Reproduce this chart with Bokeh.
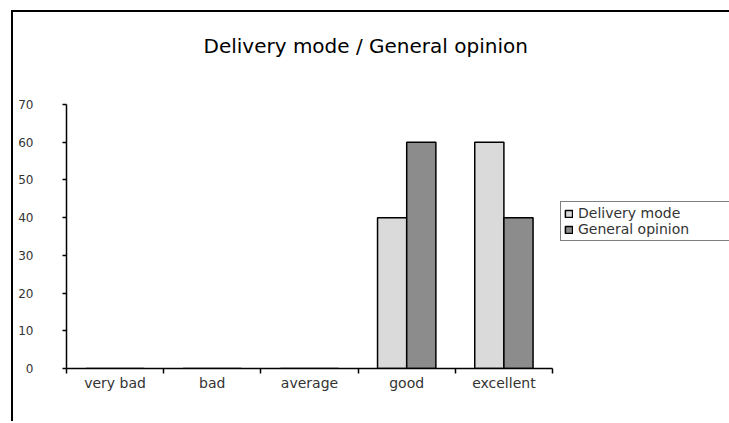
from bokeh.plotting import figure
from bokeh.models import ColumnDataSource, Range1d, FixedTicker, Legend, LegendItem, Title
from bokeh.transform import dodge
from bokeh.embed import file_html
from bokeh.resources import INLINE

categories = ["very bad", "bad", "average", "good", "excellent"]
delivery_mode = [0, 0, 0, 40, 60]
general_opinion = [0, 0, 0, 60, 40]
y_ticks = [0, 10, 20, 30, 40, 50, 60, 70]
series_names = ["Delivery mode", "General opinion"]
chart_title = "Delivery mode / General opinion"

x_pos = [i + 0.5 for i in range(len(categories))]
boundaries = list(range(len(categories) + 1))
src = ColumnDataSource(dict(x=x_pos, cat=categories, dm=delivery_mode, go=general_opinion))

FONT = "DejaVu Sans"

p = figure(frame_width=486, frame_height=264,
           x_range=Range1d(0, len(categories)), y_range=Range1d(0, y_ticks[-1]),
           output_backend="svg", toolbar_location=None, title=None,
           min_border_left=53, min_border_top=92, min_border_right=175, min_border_bottom=53)
p.styles = {"margin-left": "11px", "margin-top": "10px",
            "border-left": "2px solid #000", "border-top": "2px solid #000"}

# spacer (nearest the frame) then the visible title above it
spacer = Title(text=" ", text_font=FONT, text_font_size="20px", standoff=16)
main_title = Title(text=chart_title, align="left", offset=137, standoff=10,
                   text_font=FONT, text_font_size="20px", text_font_style="normal",
                   text_color="#000000")
p.add_layout(spacer, "above")
p.add_layout(main_title, "above")

p.xgrid.visible = False
p.ygrid.visible = False
p.outline_line_color = None
p.background_fill_color = "white"
p.border_fill_color = "white"

r1 = p.vbar(x=dodge("x", -0.15, range=p.x_range), top="dm", width=0.3, source=src,
            fill_color="#dadada", line_color="black", line_width=1.5)
r2 = p.vbar(x=dodge("x", 0.15, range=p.x_range), top="go", width=0.3, source=src,
            fill_color="#8c8c8c", line_color="black", line_width=1.5)

xa = p.xaxis[0]
xa.ticker = FixedTicker(ticks=x_pos, minor_ticks=boundaries)
xa.major_label_overrides = {xp: c for xp, c in zip(x_pos, categories)}
xa.major_tick_out = 0
xa.major_tick_in = 0
xa.minor_tick_out = 5
xa.minor_tick_in = 0
xa.minor_tick_line_color = "black"
xa.minor_tick_line_width = 1.5
xa.axis_line_color = "black"
xa.axis_line_width = 1.5
xa.major_label_standoff = 1
xa.major_label_text_font = FONT
xa.major_label_text_font_size = "14px"
xa.major_label_text_color = "#333333"

ya = p.yaxis[0]
ya.ticker = FixedTicker(ticks=y_ticks, minor_ticks=[])
ya.major_tick_out = 4
ya.major_tick_in = 0
ya.major_tick_line_color = "black"
ya.major_tick_line_width = 1.5
ya.axis_line_color = "black"
ya.axis_line_width = 1.5
ya.major_label_standoff = 29
ya.major_label_text_font = FONT
ya.major_label_text_font_size = "12px"
ya.major_label_text_color = "#333333"

legend = Legend(items=[LegendItem(label=series_names[0], renderers=[r1]),
                       LegendItem(label=series_names[1], renderers=[r2])],
                location=(8, 127), orientation="vertical",
                glyph_width=9, glyph_height=9, label_height=14, label_width=150,
                label_standoff=5, padding=3, spacing=0, margin=0,
                label_text_font=FONT, label_text_font_size="14px", label_text_color="#333333",
                border_line_color="black", border_line_width=1.2,
                background_fill_color="white", background_fill_alpha=1.0)
p.add_layout(legend, "right")

open("out.html", "w").write(file_html(p, INLINE))
